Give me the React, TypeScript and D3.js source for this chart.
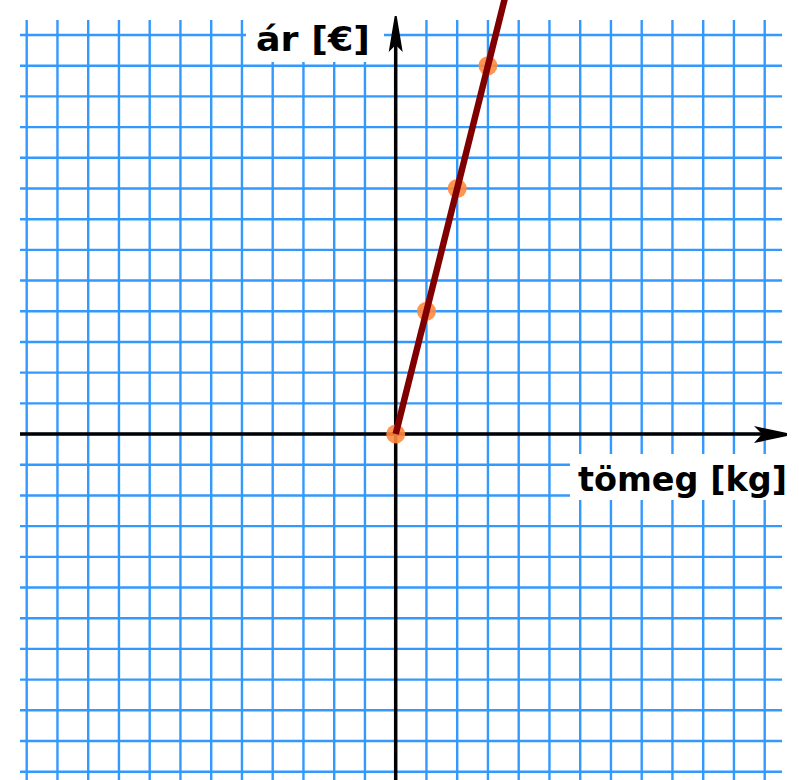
import React from "react";
import * as d3 from "d3";

const gridX = d3.range(-12, 13);
const gridY = d3.range(-11, 14);
const massKg = [0, 1, 2, 3];
const priceEur = [0, 4, 8, 12];
const fitX = [0, 3.7];
const fitY = [0, 14.8];
const xLabel = "tömeg [kg]";
const yLabel = "ár [€]";

const W = 799;
const H = 780;

export default function App() {
  const x = d3.scaleLinear().domain([-12, 12]).range([26.7, 764.7]);
  const y = d3.scaleLinear().domain([-11, 13]).range([771.7, 35]);
  const x0 = x(0);
  const y0 = y(0);
  const line = d3
    .line<number>()
    .x((d) => x(fitX[d]))
    .y((d) => y(fitY[d]));
  const blue = "#3399ff";
  return (
    <svg
      width={W}
      height={H}
      style={{ position: "absolute", left: 0, top: 0, background: "#fff" }}
    >
      <defs>
        <clipPath id="c">
          <rect x={0} y={0} width={W} height={H} />
        </clipPath>
      </defs>
      <g>
        {gridX.map((v) => (
          <line
            key={"vx" + v}
            x1={x(v)}
            x2={x(v)}
            y1={20}
            y2={H}
            stroke={blue}
            strokeWidth={2.4}
          />
        ))}
        {gridY.map((v) => (
          <line
            key={"hy" + v}
            x1={20}
            x2={782}
            y1={y(v)}
            y2={y(v)}
            stroke={blue}
            strokeWidth={2.4}
          />
        ))}
      </g>
      <rect x={246} y={14} width={138} height={48} fill="#fff" />
      <rect x={570} y={454} width={222} height={46} fill="#fff" />
      <line x1={20} x2={770} y1={y0} y2={y0} stroke="#000" strokeWidth={3.5} />
      <line x1={x0} x2={x0} y1={H} y2={40} stroke="#000" strokeWidth={3.5} />
      <path
        d={`M${754},${y0 - 8} L${787},${y0 - 1} L${787},${y0 + 2} L${754},${y0 + 9} L${762},${y0} Z`}
        fill="#000"
      />
      <path
        d={`M${x0 - 7},${52} L${x0 - 1},${16} L${x0 + 1},${16} L${x0 + 7},${52} L${x0},${45} Z`}
        fill="#000"
      />
      <text
        x={256}
        y={51}
        fontFamily="DejaVu Sans"
        fontWeight="bold"
        fontSize={33}
        textLength={114}
        lengthAdjust="spacingAndGlyphs"
      >
        {yLabel}
      </text>
      <text
        x={578}
        y={491}
        fontFamily="DejaVu Sans"
        fontWeight="bold"
        fontSize={33}
        textLength={209}
        lengthAdjust="spacingAndGlyphs"
      >
        {xLabel}
      </text>
      <g clipPath="url(#c)">
        {massKg.map((m, i) => (
          <circle
            key={i}
            cx={x(m)}
            cy={y(priceEur[i])}
            r={9.5}
            fill="#ff8a3d"
            fillOpacity={0.9}
          />
        ))}
        <path
          d={line([0, 1]) || ""}
          stroke="#800000"
          strokeWidth={6.5}
          fill="none"
        />
      </g>
    </svg>
  );
}
